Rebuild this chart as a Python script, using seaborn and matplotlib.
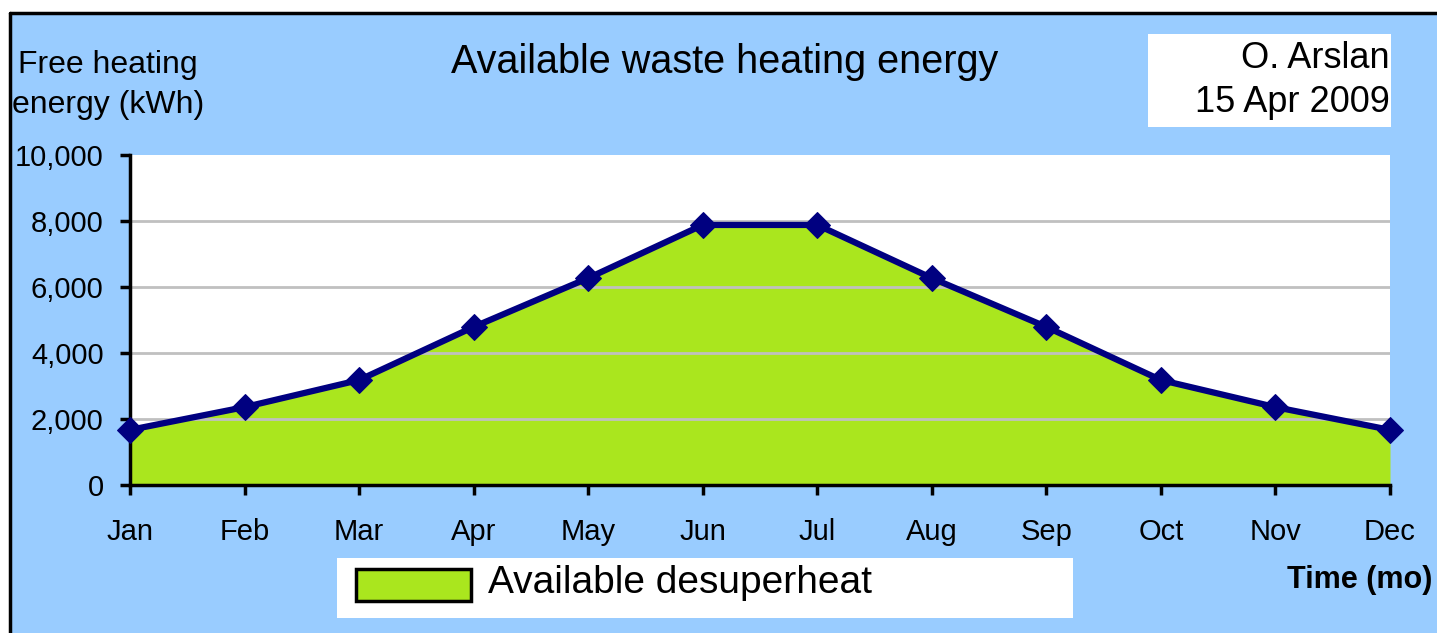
import numpy as np
import pandas as pd
import matplotlib
matplotlib.use("Agg")
import matplotlib.pyplot as plt
import matplotlib.patches as mpatches
import seaborn as sns

# Monthly waste heating energy (kWh)
months = ["Jan", "Feb", "Mar", "Apr", "May", "Jun", "Jul", "Aug", "Sep", "Oct", "Nov", "Dec"]
energy = [1670, 2360, 3180, 4790, 6270, 7880, 7880, 6270, 4790, 3180, 2360, 1670]
y_ticks = [0, 2000, 4000, 6000, 8000, 10000]

df = pd.DataFrame({"month": months, "energy": energy})
df["pos"] = np.arange(len(months))

sns.set_style("white")
plt.rcParams["font.family"] = ["Liberation Sans", "DejaVu Sans"]
plt.rcParams["text.color"] = "black"
plt.rcParams["xtick.color"] = "black"
plt.rcParams["ytick.color"] = "black"

W, H = 1437, 633
fig = plt.figure(figsize=(W / 100, H / 100), dpi=100)
fig.patch.set_facecolor("white")


def fx(x):
    return x / W


def fy(y):
    return 1 - y / H


# blue chart-area background with black border on top/left
fig.patches.append(mpatches.Rectangle((fx(10), 0), 1 - fx(10), fy(13), transform=fig.transFigure,
                                      facecolor="#99CCFF", edgecolor="none", zorder=-5))
fig.lines.append(plt.Line2D([fx(10), 1], [fy(13), fy(13)], transform=fig.transFigure, color="black", lw=2.5))
fig.lines.append(plt.Line2D([fx(10), fx(10)], [0, fy(13)], transform=fig.transFigure, color="black", lw=2.5))

ax = fig.add_axes([fx(130), fy(485), fx(1390) - fx(130), fy(155) - fy(485)])
ax.set_zorder(3)
ax.set_facecolor("white")

ax.fill_between(df["pos"], df["energy"], color="#AAE61E", zorder=1, lw=0)
for t in y_ticks[1:-1]:
    ax.axhline(t, color="#C0C0C0", lw=2, zorder=2)
sns.lineplot(data=df, x="pos", y="energy", ax=ax, color="#000080", lw=4.5, marker="D",
             markersize=13, markeredgecolor="#000080", zorder=3, clip_on=False)

ax.set_xlim(0, 11)
ax.set_ylim(0, 10000)
ax.set_xticks(df["pos"])
ax.set_xticklabels(months)
ax.set_yticks(y_ticks)
ax.set_yticklabels([f"{v:,}" for v in y_ticks])
ax.set_xlabel("")
ax.set_ylabel("")
ax.tick_params(axis="x", direction="out", length=7, width=2.5, pad=17, labelsize=21, bottom=True)
ax.tick_params(axis="y", direction="out", length=7, width=2.5, pad=12, labelsize=21, left=True)
for s in ["top", "right"]:
    ax.spines[s].set_visible(False)
for s in ["left", "bottom"]:
    ax.spines[s].set_color("black")
    ax.spines[s].set_linewidth(2.5)

# texts
fig.text(fx(725), fy(62), "Available waste heating energy", ha="center", va="center", fontsize=28.5)
fig.text(fx(18), fy(65), "Free heating", ha="left", va="center", fontsize=23)
fig.text(fx(12), fy(105), "energy (kWh)", ha="left", va="center", fontsize=23)

fig.patches.append(mpatches.Rectangle((fx(1148), fy(127)), fx(1391) - fx(1148), fy(34) - fy(127),
                                      transform=fig.transFigure, facecolor="white", edgecolor="none"))
fig.text(fx(1390), fy(58), "O. Arslan", ha="right", va="center", fontsize=26)
fig.text(fx(1390), fy(102), "15 Apr 2009", ha="right", va="center", fontsize=26)

# legend
fig.patches.append(mpatches.Rectangle((fx(337), fy(618)), fx(1073) - fx(337), fy(558) - fy(618),
                                      transform=fig.transFigure, facecolor="white", edgecolor="none"))
fig.patches.append(mpatches.Rectangle((fx(356), fy(601)), fx(471) - fx(356), fy(569) - fy(601),
                                      transform=fig.transFigure, facecolor="#AAE61E", edgecolor="black", lw=2.5))
fig.text(fx(488), fy(583), "Available desuperheat", ha="left", va="center", fontsize=28)

fig.text(fx(1287), fy(580), "Time (mo)", ha="left", va="center", fontsize=22, fontweight="bold")

fig.savefig("out.png", dpi=100)
